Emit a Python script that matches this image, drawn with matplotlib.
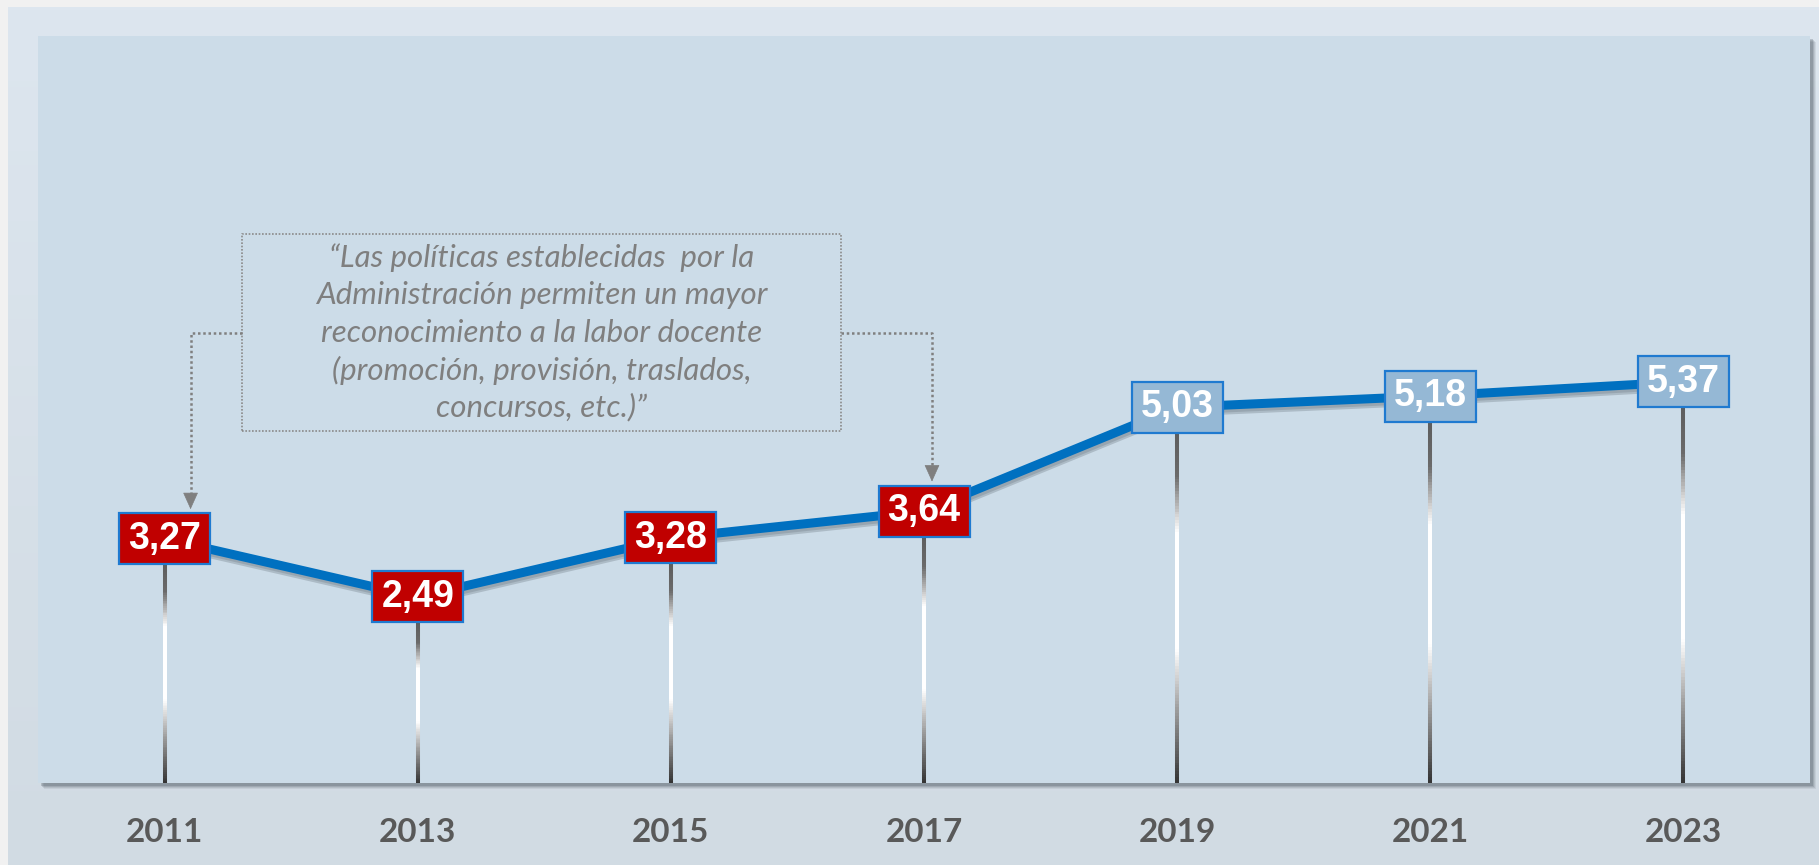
import numpy as np
import matplotlib
matplotlib.use('Agg')
import matplotlib.pyplot as plt
from matplotlib.patches import Rectangle
from matplotlib.collections import LineCollection
from matplotlib.colors import LinearSegmentedColormap
import matplotlib.patheffects as pe

# ---------------- data ----------------
years = [2011, 2013, 2015, 2017, 2019, 2021, 2023]
values = [3.27, 2.49, 3.28, 3.64, 5.03, 5.18, 5.37]
value_labels = ['3,27', '2,49', '3,28', '3,64', '5,03', '5,18', '5,37']
tick_labels = ['2011', '2013', '2015', '2017', '2019', '2021', '2023']
red_years = [2011, 2013, 2015, 2017]
quote_lines = [
    '\u201cLas pol\u00edticas establecidas  por la',
    'Administraci\u00f3n permiten un mayor',
    'reconocimiento a la labor docente',
    '(promoci\u00f3n, provisi\u00f3n, traslados,',
    'concursos, etc.)\u201d',
]
arrow_years = [2011, 2017]

# ---------------- figure ----------------
W, H = 1819, 865
fig = plt.figure(figsize=(W / 100, H / 100), dpi=100)
fig.patch.set_facecolor('#f1f1f1')

# outer panel with soft vertical gradient
bg = fig.add_axes([8 / W, 0, (W - 8) / W, (H - 7) / H], zorder=-5)
grad = np.linspace(0, 1, 256).reshape(-1, 1)
cmap_bg = LinearSegmentedColormap.from_list('bg', ['#dde6ef', '#d1dbe3'])
bg.imshow(grad, aspect='auto', cmap=cmap_bg, extent=[0, 1, 0, 1], origin='upper')
bg.axis('off')

# plot area geometry (pixels)
L, R, T, B = 38, 1810, 36, 783
# shadow of plot area
for i, a in enumerate([0.10, 0.13, 0.18, 0.25]):
    off = 6 - i
    fig.add_artist(Rectangle(((L + off) / W, (H - B - off) / H), (R - L) / W, (B - T) / H,
                             transform=fig.transFigure, facecolor='#4a5560', alpha=a,
                             edgecolor='none', zorder=-2))

ax = fig.add_axes([L / W, (H - B) / H, (R - L) / W, (B - T) / H], zorder=1)
ax.set_facecolor('#ccdce8')
ax.set_xlim(2010, 2024)
ax.set_ylim(0, 10)
for s in ax.spines.values():
    s.set_visible(False)
ax.set_xticks([])
ax.set_yticks([])

# conversions px -> data
px_x = (2024 - 2010) / (R - L)
px_y = 10 / (B - T)
box_w = 91 * px_x
box_h = 51 * px_y

# drop lines with gradient
drop_cmap = LinearSegmentedColormap.from_list(
    'drop', [(0.0, '#5e5e5e'), (0.12, '#6a6a6a'), (0.28, '#ffffff'), (0.62, '#ffffff'),
             (0.8, '#9a9a9a'), (1.0, '#353535')])
for x, v in zip(years, values):
    top = v - box_h / 2
    n = 120
    ys = np.linspace(top, 0, n + 1)
    segs = [[(x, ys[i]), (x, ys[i + 1])] for i in range(n)]
    cols = drop_cmap(np.linspace(0, 1, n))
    lc = LineCollection(segs, colors=cols, linewidths=2.9, zorder=2, capstyle='butt')
    ax.add_collection(lc)

# main line with soft shadow
ax.plot(years, values, color='#0070c0', lw=6.5, zorder=3, solid_capstyle='butt',
        path_effects=[pe.SimpleLineShadow(offset=(1, -3.5), shadow_color='#3c4650', alpha=0.22),
                      pe.SimpleLineShadow(offset=(1, -2), shadow_color='#3c4650', alpha=0.18),
                      pe.Normal()])

# value boxes
for x, v, lab in zip(years, values, value_labels):
    fc = '#c00000' if x in red_years else '#95b8d5'
    ax.add_patch(Rectangle((x - box_w / 2, v - box_h / 2), box_w, box_h, facecolor=fc,
                           edgecolor='#1f7ad0', lw=1.6, zorder=4))
    ax.text(x, v, lab, ha='center', va='center', color='white', fontsize=27,
            fontweight='bold', family=['Liberation Sans', 'DejaVu Sans'], zorder=5)

# x labels
for x, lab in zip(years, tick_labels):
    ax.text(x, -(832 - B) / (B - T) * 10, lab, ha='center', va='center', fontsize=24,
            fontweight='bold', color='#595959', family=['Lato', 'DejaVu Sans'], clip_on=False)

# quote box
qx0 = 2010 + (242 - L) * px_x
qx1 = 2010 + (841 - L) * px_x
qy0 = (B - 431) * px_y
qy1 = (B - 234) * px_y
qmid = (qy0 + qy1) / 2
dot_kw = dict(color='#7f7f7f', lw=1.8, linestyle=(0, (1, 1.1)), zorder=3, solid_capstyle='butt')
ax.plot([qx0, qx1, qx1, qx0, qx0], [qy0, qy0, qy1, qy1, qy0], color='#8a8a8a', lw=1.2,
        linestyle=(0, (1, 1)), zorder=3)
line_step = 37.5 * px_y
n = len(quote_lines)
for i, ln in enumerate(quote_lines):
    yy = qmid + ((n - 1) / 2 - i) * line_step
    ax.text((qx0 + qx1) / 2, yy, ln, ha='center', va='center', fontsize=22.5,
            style='italic', color='#7f7f7f', family=['Lato', 'DejaVu Sans'], zorder=4)

# connectors with arrows
arrow_offsets = [26 * px_x, 8 * px_x]
for ay, off in zip(arrow_years, arrow_offsets):
    v = values[years.index(ay)]
    xa = ay + off
    tip = v + box_h / 2 + 4 * px_y
    edge = qx0 if xa < qx0 else qx1
    head = 15 * px_y
    ax.plot([edge, xa, xa], [qmid, qmid, tip + head], **dot_kw)
    ax.annotate('', xy=(xa, tip), xytext=(xa, tip + head),
                arrowprops=dict(arrowstyle='-|>,head_length=1.0,head_width=0.45',
                                color='#7f7f7f', lw=0.5, mutation_scale=11,
                                shrinkA=0, shrinkB=0), zorder=4)

fig.savefig('out.png', dpi=100, facecolor=fig.get_facecolor())
